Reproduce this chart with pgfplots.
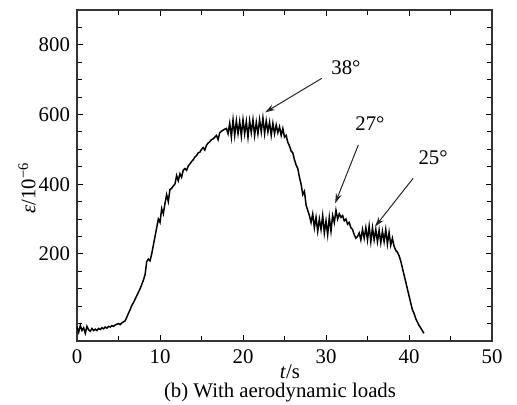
\documentclass[border=0pt]{standalone}
\usepackage{fontspec}
\setmainfont{Liberation Serif}
\usepackage{pgfplots}
\pgfplotsset{compat=1.18}
\usetikzlibrary{arrows.meta}
\begin{document}
\begin{tikzpicture}
\begin{axis}[
  name=ax,
  scale only axis,
  width=207.5pt, height=165.5pt,
  xmin=0, xmax=50, ymin=-50, ymax=900,
  xtick={0,10,...,50},
  minor xtick={5,15,...,45},
  ytick={200,400,600,800},
  minor ytick={0,50,...,850},
  tick align=inside,
  major tick length=3pt,
  minor tick length=2.5pt,
  tick style={black, line width=0.5pt},
  axis line style={line width=0.8pt, black!80},
  /pgf/number format/assume math mode=true,
  tick label style={font=\fontsize{10.4pt}{12pt}\selectfont},
  xticklabel style={yshift=-1pt},
  clip=false,
]
\addplot[black, line width=0.75pt] coordinates {
(0.0,-10)(0.2,-25)(0.4,-5)(0.6,-20)(0.8,-12)(1.0,-28)(1.2,-8)(1.4,-18)(1.6,-22)(1.8,-14)(2.0,-20)
(2.2,-16)(2.4,-20)(2.6,-14)(2.8,-17)(3.0,-12)(3.2,-15)(3.4,-10)(3.6,-13)(3.8,-8)(4.0,-10)(4.2,-6)(4.4,-8)(4.6,-4)(4.8,-2)(5.0,0)(5.2,-3)(5.4,2)(5.6,5)(5.8,8)
(6.0,18)(6.2,30)(6.4,40)(6.6,52)(6.8,60)(7.0,70)(7.2,80)(7.4,90)(7.6,100)(7.8,112)(8.0,125)(8.2,140)(8.4,178)(8.6,185)(8.8,180)(9.0,200)
(9.2,225)(9.4,250)(9.6,275)(9.8,300)(10.0,290)(10.2,330)(10.4,315)(10.6,345)(10.8,370)(11.0,350)(11.2,385)
(11.4,388)(11.6,395)(11.8,400)(12.0,425)(12.2,410)(12.4,430)(12.6,420)(12.8,440)(13.0,445)(13.2,440)(13.4,452)(13.6,458)(13.8,465)(14.0,470)(14.2,478)(14.4,482)(14.6,490)(14.8,492)(15.0,500)(15.2,505)(15.4,498)(15.6,512)(15.8,518)(16.0,522)(16.2,528)(16.4,530)(16.6,535)(16.8,540)(17.0,528)(17.2,548)(17.4,552)(17.6,555)(17.8,558)(18.0,560)(18.2,545)(18.4,575)
(18.6,535)(18.8,585)(19.0,540)(19.2,582)(19.4,545)(19.6,580)(19.8,538)(20.0,585)(20.2,545)(20.4,580)(20.6,535)(20.8,582)(21.0,548)(21.2,585)(21.4,540)(21.6,578)(21.8,545)(22.0,585)(22.2,550)(22.4,590)(22.6,545)(22.8,582)(23.0,550)(23.2,578)(23.4,540)(23.6,575)(23.8,545)(24.0,570)(24.2,548)(24.4,565)(24.6,540)(24.8,560)(25.0,535)
(25.2,540)(25.4,520)(25.6,510)(25.8,495)(26.0,490)(26.2,470)(26.4,455)(26.6,445)(26.8,420)(27.0,400)(27.2,370)(27.4,380)(27.6,340)(27.8,325)
(28.0,310)(28.2,290)(28.4,315)(28.6,275)(28.8,305)(29.0,265)(29.2,300)(29.4,270)(29.6,310)(29.8,260)(30.0,295)(30.2,255)(30.4,305)(30.6,265)(30.8,310)(31.0,290)(31.2,325)(31.4,300)(31.6,315)(31.8,305)(32.0,310)(32.2,295)(32.4,300)(32.6,285)(32.8,290)(33.0,275)
(33.2,270)(33.4,255)(33.6,245)(33.8,250)(34.0,260)(34.2,240)(34.4,270)(34.6,245)(34.8,275)(35.0,240)(35.2,280)(35.4,235)(35.6,275)(35.8,240)(36.0,270)(36.2,235)(36.4,268)(36.6,232)(36.8,265)(37.0,235)(37.2,270)(37.4,228)(37.6,262)(37.8,225)(38.0,245)(38.2,222)
(38.4,210)(38.6,205)(38.8,195)(39.0,180)(39.2,160)(39.4,140)(39.6,120)(39.8,100)(40.0,80)(40.2,60)(40.4,40)(40.6,30)(40.8,15)(41.0,5)(41.2,-5)(41.4,-12)(41.6,-20)(41.8,-28)
};
\draw[-{Stealth[length=5pt,width=3pt]}, line width=0.5pt, black!85] (axis cs:29.5,704) -- (axis cs:22.65,606);
\draw[-{Stealth[length=5pt,width=3pt]}, line width=0.5pt, black!85] (axis cs:33.9,513) -- (axis cs:31.1,345);
\draw[-{Stealth[length=5pt,width=3pt]}, line width=0.5pt, black!85] (axis cs:40.5,417) -- (axis cs:35.9,278);
\node[font=\fontsize{10.4pt}{12pt}\selectfont] at (axis cs:32.4,735) {38°};
\node[font=\fontsize{10.4pt}{12pt}\selectfont] at (axis cs:35.3,574) {27°};
\node[font=\fontsize{10.4pt}{12pt}\selectfont] at (axis cs:42.9,476) {25°};
\end{axis}
\begin{scope}[shift={(ax.south west)}]
\node[font=\fontsize{10.4pt}{12pt}\selectfont] at (106.5pt,-15.5pt) {\textit{t}/s};
\node[font=\fontsize{10.4pt}{12pt}\selectfont] at (101.5pt,-26pt) {(b) With aerodynamic loads};
\node[font=\fontsize{10.4pt}{12pt}\selectfont, rotate=90] at (-25pt,76.5pt) {\textit{ε}/10\textsuperscript{−6}};
\pgfresetboundingbox
\path[use as bounding box] (-38.5pt,-32pt) rectangle (220pt,170.5pt);
\end{scope}
\end{tikzpicture}
\end{document}
